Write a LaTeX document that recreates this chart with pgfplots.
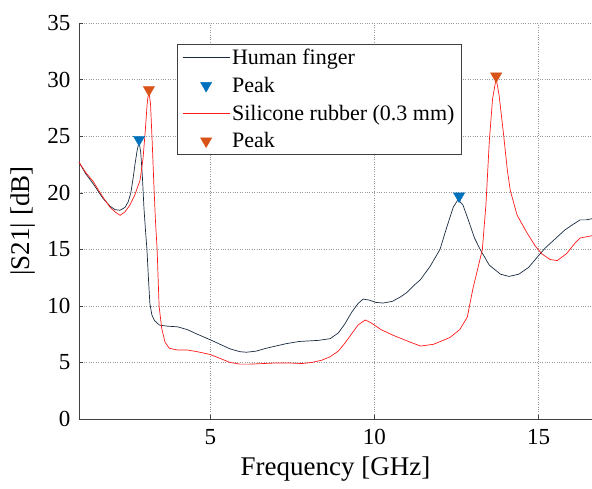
\documentclass[border=0pt]{standalone}
\usepackage{fontspec}
\setmainfont{Liberation Serif}
\usepackage{pgfplots}
\pgfplotsset{compat=1.18}

\definecolor{finger}{rgb}{0.10,0.17,0.25}
\definecolor{rubber}{rgb}{1.00,0.10,0.10}
\definecolor{peakblue}{rgb}{0.00,0.447,0.741}
\definecolor{peakorange}{rgb}{0.85,0.325,0.098}

\begin{document}
\begin{tikzpicture}
\begin{axis}[
    scale only axis,
    width=513pt, height=396pt,
    xmin=1, xmax=16.63,
    ymin=0, ymax=35,
    xtick={5,10,15},
    ytick={0,5,...,35},
    axis x line=bottom, axis y line=left,
    axis line style={-, gray!50!black},
    tick align=inside,
    major tick length=4pt,
    tick style={gray!50!black},
    grid=major,
    grid style={dotted, gray!80, line width=0.6pt},
    /pgf/number format/assume math mode=true,
    ticklabel style={font=\fontsize{23}{27}\selectfont},
    xticklabel style={yshift=-7pt},
    yticklabel style={xshift=-5pt},
    label style={font=\fontsize{27}{31}\selectfont},
    xlabel={Frequency [GHz]},
    ylabel={|S21| [dB]},
    xlabel style={yshift=-5pt},
    ylabel style={yshift=5pt},
    legend style={at={(0.191,0.947)}, anchor=north west,
        draw=gray!50!black, font=\fontsize{22}{26}\selectfont,
        inner xsep=5pt, inner ysep=3pt, row sep=7pt},
    legend cell align=left,
    legend image code/.code={
        \draw[mark repeat=2, mark phase=2, #1]
        plot coordinates {(0cm,0cm) (0.83cm,0cm) (1.66cm,0cm)};},
]
\coordinate (bl) at (rel axis cs:0,0);
\coordinate (tr) at (rel axis cs:1,1);

\addplot[color=finger, line width=0.7pt] coordinates {
(1.00,22.7) (1.20,21.7) (1.43,20.8) (1.73,19.5) (1.95,18.8) (2.10,18.5)
(2.25,18.45) (2.40,18.7) (2.50,19.2) (2.58,20.0) (2.65,21.3) (2.71,22.6)
(2.77,23.7) (2.83,24.5) (2.88,23.6) (2.93,21.5) (2.98,18.6) (3.03,16.5)
(3.07,15.0) (3.12,12.2) (3.16,10.2) (3.22,9.2) (3.30,8.7) (3.45,8.3)
(3.70,8.2) (4.00,8.15) (4.30,7.9) (4.60,7.5) (5.00,7.0) (5.30,6.6)
(5.60,6.2) (5.90,5.95) (6.10,5.9) (6.40,6.0) (6.70,6.25) (7.00,6.45)
(7.30,6.65) (7.70,6.85) (8.00,6.9) (8.30,6.95) (8.65,7.1) (8.90,7.6)
(9.10,8.4) (9.30,9.4) (9.50,10.2) (9.66,10.6) (9.85,10.5) (10.05,10.3)
(10.27,10.25) (10.55,10.4) (10.80,10.8) (11.00,11.2) (11.20,11.8)
(11.40,12.3) (11.70,13.5) (12.00,15.0) (12.20,16.9) (12.40,18.7)
(12.55,19.4) (12.70,18.9) (12.86,17.6) (13.05,16.0) (13.22,15.0)
(13.50,13.6) (13.84,12.8) (14.10,12.6) (14.40,12.8) (14.70,13.4)
(14.96,14.3) (15.20,15.1) (15.50,15.9) (15.80,16.7) (16.00,17.1)
(16.27,17.6) (16.45,17.6) (16.63,17.7)
};
\addlegendentry{Human finger}
\addplot[only marks, mark=triangle*, mark size=6.5pt,
    mark options={rotate=180, fill=peakblue, draw=peakblue}]
    coordinates {(2.83,24.7) (12.58,19.7)};
\addlegendentry{Peak}

\addplot[draw=rubber, line width=0.7pt] coordinates {
(1.00,22.7) (1.20,21.8) (1.43,21.0) (1.73,19.6) (1.95,18.7) (2.10,18.3)
(2.25,18.0) (2.40,18.3) (2.55,18.9) (2.70,19.8) (2.86,21.1) (2.95,23.0)
(3.02,25.5) (3.08,28.0) (3.13,29.0) (3.18,27.8) (3.23,24.5) (3.28,20.8)
(3.33,17.5) (3.38,15.0) (3.44,10.0) (3.52,8.0) (3.62,6.8) (3.75,6.25)
(4.00,6.1) (4.30,6.1) (4.60,5.95) (5.00,5.7) (5.30,5.35) (5.60,5.0)
(5.90,4.85) (6.20,4.85) (6.60,4.9) (7.00,4.95) (7.40,4.95) (7.80,4.9)
(8.10,5.0) (8.40,5.2) (8.65,5.5) (8.90,6.0) (9.10,6.7) (9.30,7.5)
(9.50,8.3) (9.72,8.75) (9.90,8.5) (10.20,7.9) (10.57,7.4) (11.00,6.9)
(11.40,6.45) (11.80,6.6) (12.30,7.2) (12.60,7.9) (12.83,9.0) (13.00,11.5)
(13.15,13.3) (13.29,15.0) (13.40,19.0) (13.50,24.5) (13.60,28.3)
(13.71,30.1) (13.80,28.6) (13.93,25.3) (14.05,22.0) (14.14,20.2)
(14.35,18.0) (14.66,16.4) (14.90,15.3) (15.10,14.6) (15.35,14.1)
(15.57,14.0) (15.85,14.6) (16.10,15.5) (16.27,16.0) (16.45,16.1)
(16.63,16.2)
};
\addlegendentry{Silicone rubber (0.3 mm)}
\addplot[only marks, mark=triangle*, mark size=6.5pt,
    mark options={rotate=180, fill=peakorange, draw=peakorange}]
    coordinates {(3.13,29.1) (13.71,30.3)};
\addlegendentry{Peak}
\end{axis}
\pgfresetboundingbox
\path ([shift={(-79pt,-70pt)}]bl) rectangle ([shift={(0pt,23pt)}]tr);
\end{tikzpicture}
\end{document}
